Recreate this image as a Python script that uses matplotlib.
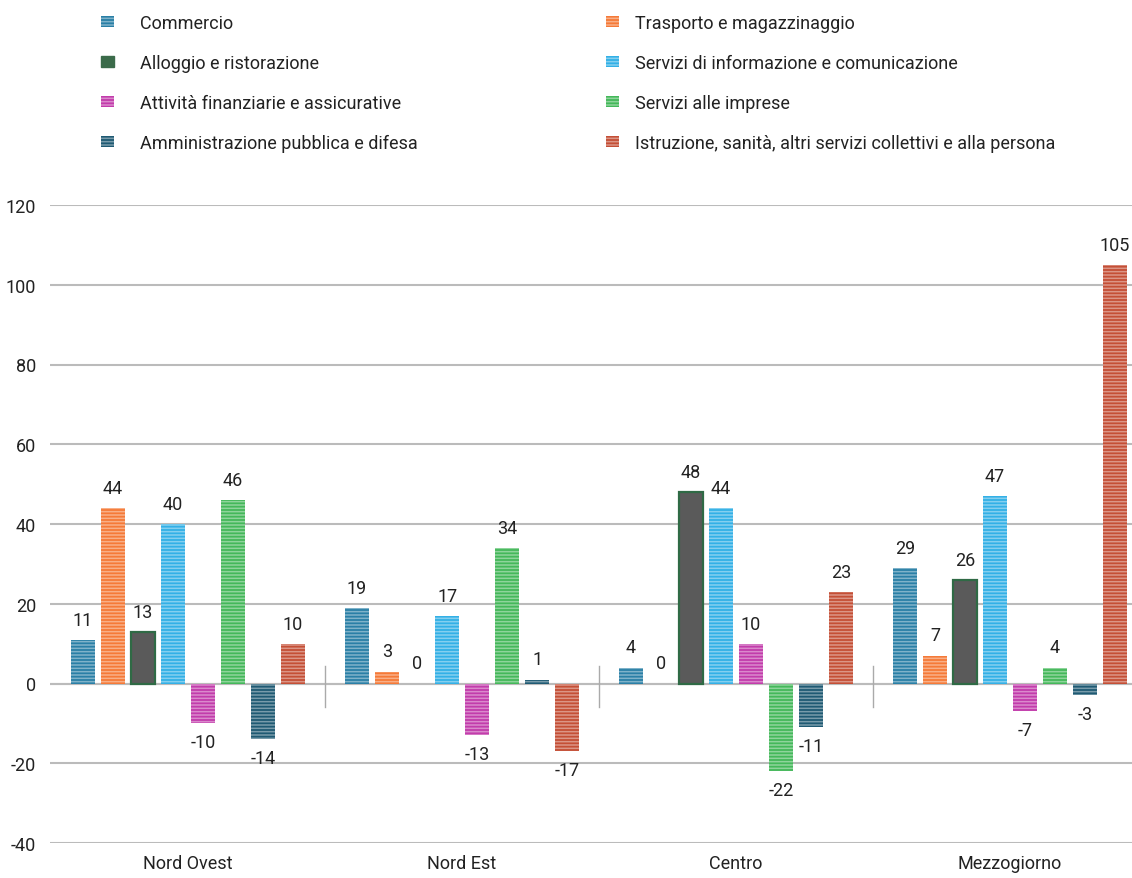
import numpy as np
import matplotlib
matplotlib.use("Agg")
import matplotlib.pyplot as plt
from matplotlib.patches import Patch

plt.rcParams['font.family'] = ['Roboto', 'DejaVu Sans']
plt.rcParams['axes.unicode_minus'] = False
plt.rcParams['hatch.linewidth'] = 1.1

regioni = ['Nord Ovest', 'Nord Est', 'Centro', 'Mezzogiorno']
settori = ['Commercio', 'Trasporto e magazzinaggio', 'Alloggio e ristorazione',
           'Servizi di informazione e comunicazione', 'Attività finanziarie e assicurative',
           'Servizi alle imprese', 'Amministrazione pubblica e difesa',
           'Istruzione, sanità, altri servizi collettivi e alla persona']
colori = ['#2a7fa6', '#f57a38', '#3b6b4a', '#33b0e6', '#c23cab', '#44b85a', '#1f5a73', '#c44f36']

# valori per settore, un elemento per regione
commercio = [11, 19, 4, 29]
trasporto = [44, 3, 0, 7]
alloggio = [13, 0, 48, 26]
informazione = [40, 17, 44, 47]
finanza = [-10, -13, 10, -7]
imprese = [46, 34, -22, 4]
amministrazione = [-14, 1, -11, -3]
istruzione = [10, -17, 23, 105]
serie = [commercio, trasporto, alloggio, informazione, finanza, imprese, amministrazione, istruzione]

fig = plt.figure(figsize=(11.32, 8.79), dpi=100)
ax = fig.add_axes([50/1132, 1-844/879, 1082/1132, (844-206)/879])

x = np.arange(len(regioni))
passo = 0.1095
larg = 0.0876
for k, (vals, col) in enumerate(zip(serie, colori)):
    pos = x + (k - 3.5) * passo
    if k == 2:
        # alloggio: pieno grigio con bordo verde
        ax.bar(pos, vals, width=larg, color='#5a5a5a', edgecolor='#2f6a45',
               linewidth=[1.6 if v else 0 for v in vals], zorder=3)
    else:
        ax.bar(pos, vals, width=larg, color=col, linewidth=0, zorder=3)
        # righe chiare orizzontali sopra le barre
        ax.bar(pos, vals, width=larg, facecolor='none', edgecolor=(1, 1, 1, 0.4),
               hatch='-----', linewidth=0, zorder=4)
    for xi, v in zip(pos, vals):
        if v >= 0:
            ax.annotate(str(v), (xi, v), xytext=(0, 8), textcoords='offset points',
                        ha='center', va='bottom', fontsize=13, color='#222222')
        else:
            ax.annotate(str(v), (xi, v), xytext=(0, -7), textcoords='offset points',
                        ha='center', va='top', fontsize=13, color='#222222')

# separatori tra i gruppi
for s in [0.5, 1.5, 2.5]:
    ax.plot([s, s], [4.3, -5.8], color='#aaaaaa', lw=1, zorder=2)

ax.set_xlim(-0.504, 3.445)
ax.set_ylim(-40, 120)
ax.set_yticks(range(-40, 121, 20))
ax.yaxis.grid(True, color='#bbbbbb', lw=1.5, zorder=0)
ax.axhline(0, color='#bbbbbb', lw=1.5, zorder=1)
ax.set_xticks(x)
ax.set_xticklabels(regioni)
ax.tick_params(axis='both', length=0, labelsize=13, colors='#222222')
ax.tick_params(axis='x', pad=8)
ax.tick_params(axis='y', pad=10)
for sp in ax.spines.values():
    sp.set_visible(False)

maniglie = []
for k, (c, s) in enumerate(zip(colori, settori)):
    if k == 2:
        maniglie.append(Patch(facecolor=c, edgecolor=c, label=s))
    else:
        maniglie.append(Patch(facecolor=c, edgecolor=(1, 1, 1, 0.4), hatch='-----', lw=0, label=s))

for i, (xa, pad) in enumerate([(88/1132, 1.45), (593/1132, 0.9)]):
    leg = fig.legend(handles=maniglie[i::2], loc='upper left', bbox_to_anchor=(xa, 0.997),
                     frameon=False, fontsize=13, handlelength=0.72, handleheight=0.55,
                     handletextpad=pad, labelspacing=1.21, borderaxespad=0.3)
    for t in leg.get_texts():
        t.set_color('#222222')

fig.savefig('out.png', dpi=100)
